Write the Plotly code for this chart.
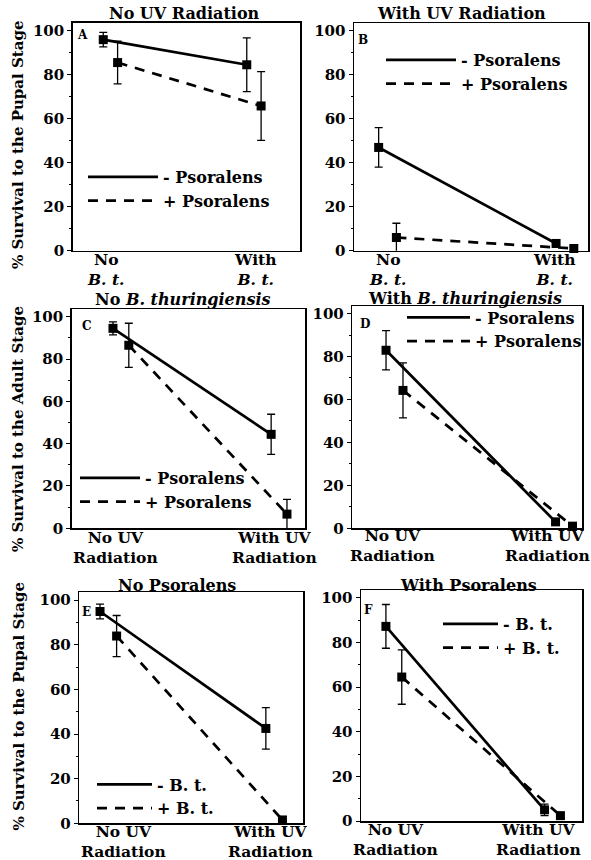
import plotly.graph_objects as go

W, H = 591, 860

# ---------------- data ----------------
bt_labels = ["No<br><i>B. t.</i>", "With<br><i>B. t.</i>"]
uv_labels = ["No UV<br>Radiation", "With UV<br>Radiation"]

ps_names = ["- Psoralens", "+ Psoralens"]
bt_names = ["- B. t.", "+ B. t."]

# Panel A: No UV radiation (x: B. t. treatment), survival to pupal stage
a_minus = [95.8, 84.4]
a_minus_err = [3.3, 12.2]
a_plus = [85.4, 65.7]
a_plus_err = [9.7, 15.6]

# Panel B: With UV radiation
b_minus = [47.0, 3.3]
b_minus_err = [9.0, 1.5]
b_plus = [6.0, 1.0]
b_plus_err = [6.5, 0.5]

# Panel C: No B. thuringiensis (x: UV), survival to adult stage
c_minus = [94.5, 44.4]
c_minus_err = [3.1, 9.5]
c_plus = [86.5, 6.7]
c_plus_err = [10.4, 7.0]

# Panel D: With B. thuringiensis
d_minus = [82.9, 3.0]
d_minus_err = [9.1, 1.2]
d_plus = [64.2, 1.0]
d_plus_err = [12.8, 0.5]

# Panel E: No psoralens (x: UV), survival to pupal stage
e_minus = [94.9, 42.5]
e_minus_err = [3.3, 9.3]
e_plus = [83.9, 1.5]
e_plus_err = [9.2, 1.5]

# Panel F: With psoralens
f_minus = [87.2, 5.0]
f_minus_err = [9.8, 2.6]
f_plus = [64.5, 2.4]
f_plus_err = [12.2, 1.0]

y_ticks = [0, 20, 40, 60, 80, 100]

# ---------------- layout / style ----------------
FONT = "DejaVu Serif"
BLACK = "#000000"
OFFSET = 0.05  # horizontal separation of the two series


def px_x(p):
    return p / W


def px_y(p):
    return 1 - p / H


panels = [
    dict(letter="A", title="No UV Radiation", series=(a_minus, a_minus_err, a_plus, a_plus_err),
         names=ps_names, labels=bt_labels,
         dom_x=(72.7, 300), dom_y=(22.7, 250.7), xr=(-0.263, 1.321),
         title_pos=(184, 13.5), letter_pos=(82, 35), shifts=(-5, 1), lab_dy=19,
         legend_pos=(83, 160), legend_w=70,
         ytitle="% Survival to the Pupal Stage", ytitle_y=145),
    dict(letter="B", title="With UV Radiation", series=(b_minus, b_minus_err, b_plus, b_plus_err),
         names=ps_names, labels=bt_labels,
         dom_x=(354, 588), dom_y=(23.3, 250.7), xr=(-0.189, 1.130),
         title_pos=(461.5, 13.5), letter_pos=(362.5, 40), shifts=(0, -11), lab_dy=19,
         legend_pos=(381, 43), legend_w=70, ytitle=None, ytitle_y=None),
    dict(letter="C", title="No <i>B. thuringiensis</i>", series=(c_minus, c_minus_err, c_plus, c_plus_err),
         names=ps_names, labels=uv_labels,
         dom_x=(71.7, 305), dom_y=(309.3, 528.3), xr=(-0.311, 1.164),
         title_pos=(183, 300), letter_pos=(86.7, 326), shifts=(-5, -5), lab_dy=19,
         legend_pos=(75, 461), legend_w=60,
         ytitle="% Survival to the Adult Stage", ytitle_y=429),
    dict(letter="D", title="With <i>B. thuringiensis</i>", series=(d_minus, d_minus_err, d_plus, d_plus_err),
         names=ps_names, labels=uv_labels,
         dom_x=(352.3, 582), dom_y=(306, 528.3), xr=(-0.249, 1.106),
         title_pos=(465, 298.5), letter_pos=(365, 323.5), shifts=(-2, -17), lab_dy=17,
         legend_pos=(402, 300.5), legend_w=63, ytitle=None, ytitle_y=None),
    dict(letter="E", title="No Psoralens", series=(e_minus, e_minus_err, e_plus, e_plus_err),
         names=bt_names, labels=uv_labels,
         dom_x=(79.3, 303), dom_y=(592.3, 823.3), xr=(-0.175, 1.174),
         title_pos=(176.7, 585.5), letter_pos=(86.7, 611.5), shifts=(15, -4), lab_dy=18,
         legend_pos=(92, 767.5), legend_w=55,
         ytitle="% Survival to the Pupal Stage", ytitle_y=706.5),
    dict(letter="F", title="With Psoralens", series=(f_minus, f_minus_err, f_plus, f_plus_err),
         names=bt_names, labels=uv_labels,
         dom_x=(361, 582), dom_y=(590, 821), xr=(-0.207, 1.186),
         title_pos=(468.5, 585.5), letter_pos=(368, 609.5), shifts=(2, -14), lab_dy=18,
         legend_pos=(438, 607), legend_w=55, ytitle=None, ytitle_y=None),
]

fig = go.Figure()
annotations = []
layout_extra = {}

for k, p in enumerate(panels, start=1):
    sfx = "" if k == 1 else str(k)
    xa, ya = "x" + sfx, "y" + sfx
    leg = "legend" + sfx
    mvals, merr, pvals, perr = p["series"]
    cats = list(range(len(p["labels"])))

    for vals, errs, name, dash, off in (
        (mvals, merr, p["names"][0], "solid", -OFFSET),
        (pvals, perr, p["names"][1], "10px,8px", OFFSET),
    ):
        fig.add_trace(go.Scatter(
            x=[c + off for c in cats], y=vals, xaxis=xa, yaxis=ya,
            mode="lines+markers", showlegend=False,
            line=dict(color=BLACK, width=2.7, dash=dash),
            marker=dict(symbol="square", size=9, color=BLACK),
            error_y=dict(type="data", array=errs, visible=True, color=BLACK,
                         thickness=1.3, width=4),
            cliponaxis=False,
        ))
        # legend entry (line sample only)
        fig.add_trace(go.Scatter(
            x=[None], y=[None], xaxis=xa, yaxis=ya, mode="lines", name=name,
            legend=leg, showlegend=True,
            line=dict(color=BLACK, width=2.7, dash=dash),
        ))

    x0, x1 = p["dom_x"]
    yt, yb = p["dom_y"]
    layout_extra["xaxis" + sfx] = dict(
        domain=[px_x(x0), px_x(x1)], range=list(p["xr"]), anchor=ya,
        showline=True, mirror=True, linecolor=BLACK, linewidth=1.5,
        showgrid=False, zeroline=False, showticklabels=False, ticks="",
        tickvals=cats, fixedrange=True,
    )
    layout_extra["yaxis" + sfx] = dict(
        domain=[px_y(yb), px_y(yt)], range=[0, 103.5], anchor=xa,
        showline=True, mirror=True, linecolor=BLACK, linewidth=1.5,
        showgrid=False, zeroline=False,
        tickvals=y_ticks, ticks="outside", ticklen=4, tickwidth=1, tickcolor=BLACK,
        minor=dict(dtick=10, tick0=0, ticks="outside", ticklen=2, tickcolor=BLACK, showgrid=False),
        tickfont=dict(family=FONT, size=15, color=BLACK, weight="bold"),
        fixedrange=True,
    )
    layout_extra[leg] = dict(
        x=px_x(p["legend_pos"][0]), y=px_y(p["legend_pos"][1]),
        xanchor="left", yanchor="top", bgcolor="rgba(0,0,0,0)", borderwidth=0,
        font=dict(family=FONT, size=16, color=BLACK, weight="bold"),
        itemwidth=p["legend_w"], tracegroupgap=0, traceorder="normal",
    )

    # panel title
    annotations.append(dict(
        text=p["title"], xref="paper", yref="paper",
        x=px_x(p["title_pos"][0]), y=px_y(p["title_pos"][1]),
        xanchor="center", yanchor="middle", showarrow=False,
        font=dict(family=FONT, size=16, color=BLACK, weight="bold"),
    ))
    # panel letter
    annotations.append(dict(
        text=p["letter"], xref="paper", yref="paper",
        x=px_x(p["letter_pos"][0]), y=px_y(p["letter_pos"][1]),
        xanchor="center", yanchor="middle", showarrow=False,
        font=dict(family=FONT, size=12, color=BLACK, weight="bold"),
    ))
    # category labels (two lines), positioned through the x axis
    for c in cats:
        annotations.append(dict(
            text=p["labels"][c], xref=xa, yref=ya + " domain", x=c, y=0,
            xshift=p["shifts"][c], yshift=-p["lab_dy"],
            xanchor="center", yanchor="middle", showarrow=False,
            font=dict(family=FONT, size=15.5, color=BLACK, weight="bold"),
        ))
    # y-axis title
    if p["ytitle"]:
        annotations.append(dict(
            text=p["ytitle"], xref="paper", yref="paper",
            x=px_x(18), y=px_y(p["ytitle_y"]), textangle=-90,
            xanchor="center", yanchor="middle", showarrow=False,
            font=dict(family=FONT, size=15, color=BLACK, weight="bold"),
        ))

fig.update_layout(
    width=W, height=H,
    margin=dict(l=0, r=0, t=0, b=0, autoexpand=False),
    paper_bgcolor="white", plot_bgcolor="white",
    annotations=annotations,
    **layout_extra,
)

fig.write_html(
    "out.html",
    config={"displayModeBar": False, "staticPlot": True},
    post_script="document.body.style.margin='0';document.body.style.overflow='hidden';",
)
